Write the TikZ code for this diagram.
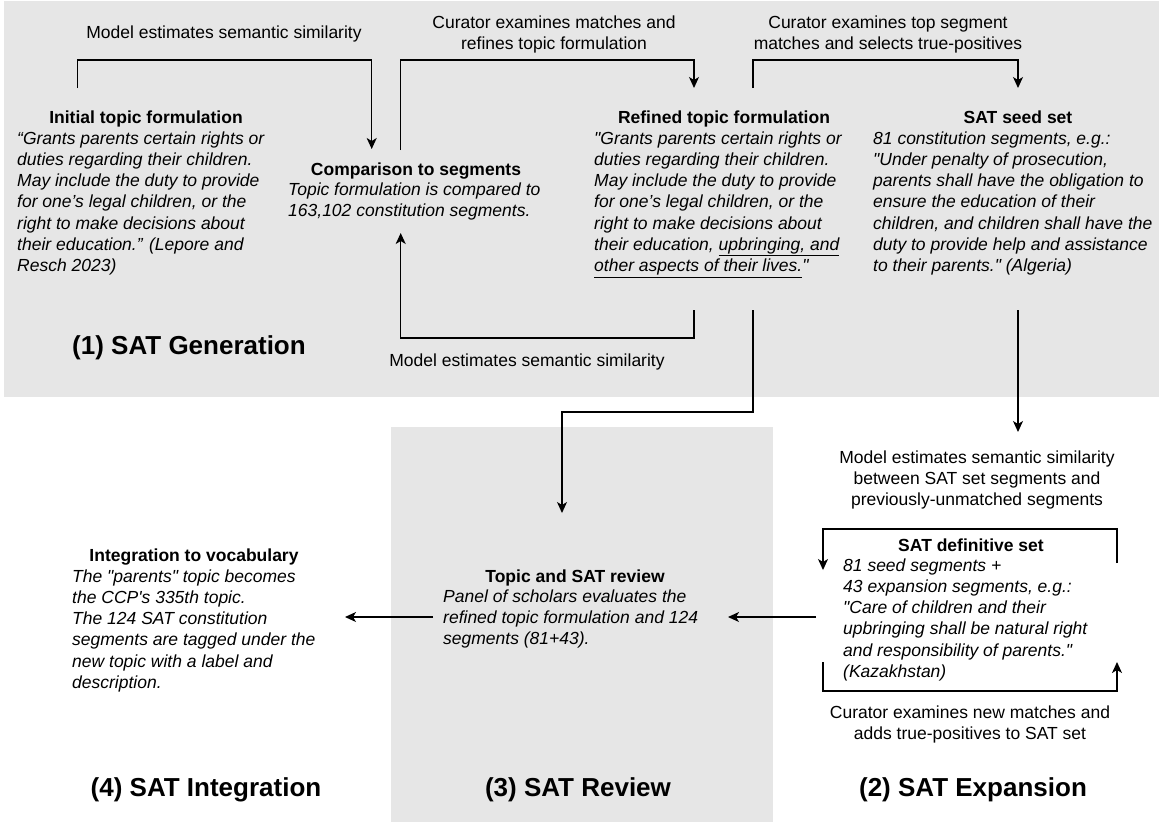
\documentclass[tikz,border=0pt]{standalone}
\usepackage{fontspec}
\newfontfamily\arial{Liberation Sans}
\usetikzlibrary{arrows.meta}
\definecolor{panel}{RGB}{230,230,230}
\begin{document}
\begin{tikzpicture}[x=1pt,y=-1pt,
  base/.style={inner sep=0pt, text=black},
  lbl/.style={base, align=center, anchor=base, font=\arial\fontsize{17.5}{21.3}\selectfont},
  head/.style={base, anchor=base, font=\arial\bfseries\fontsize{17.5}{21.3}\selectfont},
  body/.style={base, align=left, anchor=base west, font=\arial\itshape\fontsize{17.5}{21.3}\selectfont},
  ttl/.style={base, anchor=base, font=\arial\bfseries\fontsize{26}{31}\selectfont},
  conn/.style={line width=1.3pt, -{Stealth[length=11pt,width=10pt,inset=3pt]}}]
\useasboundingbox (0,0) rectangle (1159,823);
\fill[white] (0,0) rectangle (1159,823);
% panels
\fill[panel] (4,1) rectangle (1159,397);
\fill[panel] (391,427) rectangle (773,822);

% (1) SAT generation  (multi-line nodes: base = baseline of last line)
\node[head] (inith) at (146,123) {Initial topic formulation};
\node[body] (initb) at (17,271.8) {“Grants parents certain rights or\\duties regarding their children.\\May include the duty to provide\\for one’s legal children, or the\\right to make decisions about\\their education.” (Lepore and\\Resch 2023)};
\node[head] (comph) at (416,175) {Comparison to segments};
\node[body] (compb) at (288,216.3) {Topic formulation is compared to\\163,102 constitution segments.};
\node[head] (refh) at (724,123) {Refined topic formulation};
\node[body] (refb) at (594,271.8) {"Grants parents certain rights or\\duties regarding their children.\\May include the duty to provide\\for one’s legal children, or the\\right to make decisions about\\their education, \underline{upbringing, and}\\\underline{other aspects of their lives.}"};
\node[head] (seedh) at (1018,123) {SAT seed set};
\node[body] (seedb) at (873,271.8) {81 constitution segments, e.g.:\\"Under penalty of prosecution,\\parents shall have the obligation to\\ensure the education of their\\children, and children shall have the\\duty to provide help and assistance\\to their parents." (Algeria)};
\node[ttl] (t1) at (189,354) {(1) SAT Generation};

\node[lbl] (l1) at (224,38) {Model estimates semantic similarity};
\node[lbl] (l2) at (554,49.3) {Curator examines matches and\\refines topic formulation};
\node[lbl] (l3) at (888,49.3) {Curator examines top segment\\matches and selects true-positives};
\node[lbl] (l4) at (527,366) {Model estimates semantic similarity};

% (2) SAT expansion
\node[lbl] (l5) at (977,505.6) {Model estimates semantic similarity\\between SAT set segments and\\previously-unmatched segments};
\node[head] (defh) at (971,551) {SAT definitive set};
\node[body] (defb) at (843,677.5) {81 seed segments +\\43 expansion segments, e.g.:\\"Care of children and their\\upbringing shall be natural right\\and responsibility of parents."\\(Kazakhstan)};
\node[lbl] (l6) at (970,739.3) {Curator examines new matches and\\adds true-positives to SAT set};
\node[ttl] (t2) at (973,796) {(2) SAT Expansion};

% (3) SAT review
\node[head] (revh) at (575,582) {Topic and SAT review};
\node[body] (revb) at (443,644.6) {Panel of scholars evaluates the\\refined topic formulation and 124\\segments (81+43).};
\node[ttl] (t3) at (578,796) {(3) SAT Review};

% (4) SAT integration
\node[head] (inth) at (194,561) {Integration to vocabulary};
\node[body] (intb) at (72,688.5) {The "parents" topic becomes\\the CCP's 335th topic.\\The 124 SAT constitution\\segments are tagged under the\\new topic with a label and\\description.};
\node[ttl] (t4) at (206,796) {(4) SAT Integration};

% connector end points
\coordinate (initTop) at (77.7,88);
\coordinate (compIn) at (371.7,149);
\coordinate (compTop) at (400.7,150);
\coordinate (refIn) at (694,88);
\coordinate (refTop) at (753,88);
\coordinate (seedIn) at (1018,88);
\coordinate (refBotL) at (694,310);
\coordinate (compBotIn) at (400.7,233);
\coordinate (refBotR) at (753,310);
\coordinate (revIn) at (562,513);
\coordinate (seedBot) at (1018,310);
\coordinate (expIn) at (1018,432);
\coordinate (defR1) at (1117,563);
\coordinate (defL1) at (823,570);
\coordinate (defL2) at (823,662);
\coordinate (defR2) at (1117,662);
\coordinate (defOut) at (816,617);
\coordinate (revInR) at (728,617);
\coordinate (revOut) at (433,617);
\coordinate (intIn) at (345,617);

\draw[conn] (initTop) -- ++(0,-28) -| (compIn);
\draw[conn] (compTop) -- ++(0,-90) -| (refIn);
\draw[conn] (refTop) -- ++(0,-28) -| (seedIn);
\draw[conn] (refBotL) -- ++(0,28) -| (compBotIn);
\draw[conn] (refBotR) -- ++(0,102) -| (revIn);
\draw[conn] (seedBot) -- (expIn);
\draw[conn] (defR1) -- ++(0,-34) -| (defL1);
\draw[conn] (defL2) -- ++(0,29) -| (defR2);
\draw[conn] (defOut) -- (revInR);
\draw[conn] (revOut) -- (intIn);
\end{tikzpicture}
\end{document}
